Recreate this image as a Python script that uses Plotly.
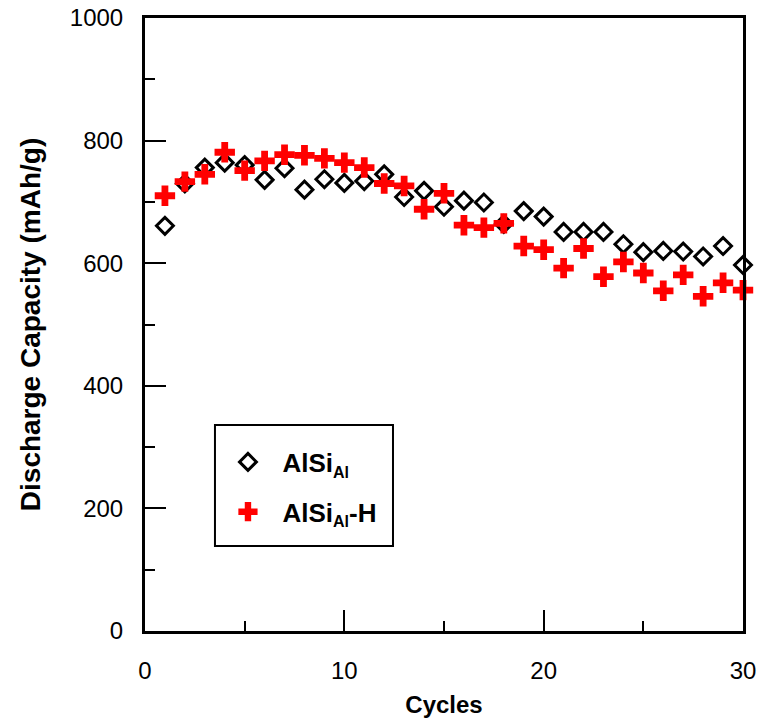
import plotly.graph_objects as go

cycles = list(range(1, 31))
alsi_al = [661, 730, 756, 764, 760, 736, 755, 720, 737, 731,
           734, 745, 708, 718, 692, 702, 699, 664, 685, 676,
           651, 651, 651, 631, 618, 620, 619, 611, 628, 597]
alsi_al_h = [710, 733, 745, 781, 751, 767, 777, 776, 771, 764,
             756, 730, 726, 688, 714, 662, 658, 665, 628, 622,
             592, 624, 578, 602, 584, 555, 581, 546, 568, 556]

x_ticks = [0, 10, 20, 30]
y_ticks = [0, 200, 400, 600, 800, 1000]

name1 = "&nbsp;&nbsp;AlSi<sub><span style='font-size:16px'>Al</span></sub>"
name2 = "&nbsp;&nbsp;AlSi<sub><span style='font-size:16px'>Al</span></sub>-H"

fig = go.Figure()
fig.add_trace(go.Scatter(
    x=cycles, y=alsi_al, mode="markers", name=name1, legendgroup="a",
    marker=dict(symbol="diamond-open", size=13, color="black",
                line=dict(width=3, color="black")),
    cliponaxis=False))
fig.add_trace(go.Scatter(
    x=cycles, y=alsi_al_h, mode="markers", name=name2, legendgroup="b",
    marker=dict(symbol="cross", size=17, color="#FF0000",
                line=dict(width=0)),
    cliponaxis=False))

axis_common = dict(
    showline=True, linewidth=3, linecolor="black", mirror=True,
    ticks="inside", ticklen=21, tickwidth=2, tickcolor="black",
    showgrid=False, zeroline=False, automargin=False,
    tickfont=dict(family="Liberation Sans, Arial", size=24, color="black"),
)

fig.update_xaxes(
    range=[0, 30], tickvals=x_ticks, ticklabelstandoff=16,
    minor=dict(dtick=5, ticks="inside", ticklen=10, tickwidth=2, tickcolor="black", showgrid=False),
    title=dict(text="<b>Cycles</b>", standoff=14,
               font=dict(family="Liberation Sans, Arial", size=24, color="black")),
    **axis_common)
fig.update_yaxes(
    range=[0, 1000], tickvals=y_ticks, ticklabelstandoff=14,
    minor=dict(dtick=100, ticks="inside", ticklen=10, tickwidth=2, tickcolor="black", showgrid=False),
    title=dict(text="<b>Discharge Capacity (mAh/g)</b>", standoff=22,
               font=dict(family="Liberation Sans, Arial", size=28, color="black")),
    **axis_common)

# legend frame
fig.add_shape(type="rect", xref="paper", yref="paper",
              x0=0.117, x1=0.4147, y0=0.1387, y1=0.336,
              line=dict(color="black", width=2), fillcolor="rgba(0,0,0,0)",
              layer="above")

fig.update_layout(
    width=762, height=725,
    margin=dict(l=145, r=19, t=18, b=94),
    paper_bgcolor="white", plot_bgcolor="white",
    showlegend=True,
    legend=dict(
        x=0.117, y=0.314, xanchor="left", yanchor="top",
        borderwidth=0, bgcolor="rgba(0,0,0,0)",
        font=dict(family="Liberation Sans, Arial", size=26, color="black", weight="bold"),
        tracegroupgap=13, traceorder="grouped", indentation=13,
    ),
)

fig.write_html("out.html")
